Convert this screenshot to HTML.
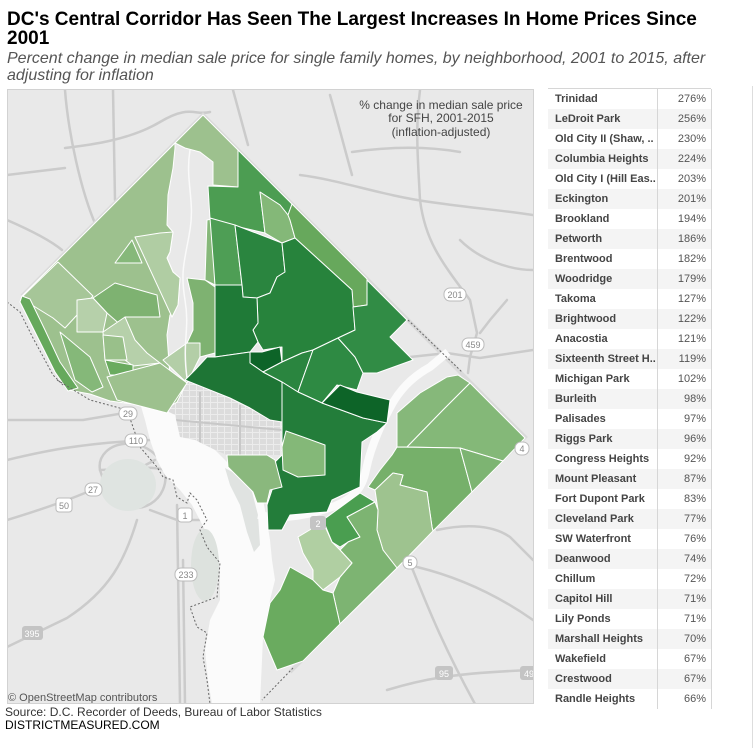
<!DOCTYPE html>
<html><head><meta charset="utf-8">
<style>
*{margin:0;padding:0;box-sizing:border-box}
body{width:753px;height:748px;overflow:hidden;background:#fff;font-family:"Liberation Sans",Arial,sans-serif;position:relative}
.t{position:absolute;left:7px;top:10px;font-size:19px;line-height:19px;font-weight:bold;color:#000;width:742px;white-space:nowrap}
.s{position:absolute;left:7px;top:50px;font-size:16px;line-height:17px;font-style:italic;color:#555;width:746px;white-space:nowrap}
.src{position:absolute;left:5px;top:706px;font-size:12px;line-height:13px;color:#333;white-space:nowrap}
.src2{color:#000}
.tbl{position:absolute;left:548px;top:88px;width:163px;border-top:1px solid #d6d6d6}
.r{height:20px;line-height:20px;font-size:11px;position:relative}
.r:nth-child(even){background:#f4f4f4}
.n{position:absolute;left:7px;top:0;font-weight:bold;color:#444;white-space:nowrap}
.v{position:absolute;right:5px;top:0;color:#555}
.vl{position:absolute;top:89px;width:1px;height:620px;background:#d6d6d6}
</style></head><body>
<div class="t">DC's Central Corridor Has Seen The Largest Increases In Home Prices Since<br>2001</div>
<div class="s">Percent change in median sale price for single family homes, by neighborhood, 2001 to 2015, after<br>adjusting for inflation</div>

<svg width="753" height="748" style="position:absolute;left:0;top:0">
<defs>
<clipPath id="mc"><rect x="7" y="90" width="526" height="614"/></clipPath>
<pattern id="grid" width="7" height="6" patternUnits="userSpaceOnUse"><path d="M0 0.5H7M0.5 0V6" stroke="#ececec" stroke-width="1"/></pattern>
</defs>
<g clip-path="url(#mc)">
<rect x="7" y="90" width="526" height="614" fill="#e9e9e9"/>
<!-- roads -->
<g fill="none" stroke="#cbcbcb" stroke-width="2.5" stroke-linecap="round">
<path d="M65,90 C68,130 80,190 97,228"/>
<path d="M113,90 L115,200"/>
<path d="M7,175 L65,168"/>
<path d="M65,148 C90,145 130,140 160,122 S195,116 210,112"/>
<path d="M7,220 C30,230 50,240 62,250"/>
<path d="M233,90 L248,145"/>
<path d="M330,95 C340,130 345,150 352,175"/>
<path d="M300,175 C340,180 380,195 430,202 S500,210 533,215"/>
<path d="M352,152 C380,148 420,145 460,152"/>
<path d="M420,90 C415,130 418,160 420,200 C425,240 440,260 470,300 L477,333 L470,357 L468,373"/>
<path d="M460,240 C480,260 510,270 533,270"/>
<path d="M507,300 L490,320 L480,333"/>
<path d="M410,357 L447,353 L480,358 L533,350"/>
<path d="M410,563 C425,600 440,640 475,704"/>
<path d="M417,567 C450,575 490,590 533,620"/>
<path d="M437,530 C460,525 490,523 510,537 L533,560"/>
<path d="M387,690 C420,680 450,673 533,670"/>
<path d="M7,460 C40,452 80,443 150,440"/>
<path d="M100,470 C95,440 150,430 165,470 C170,500 140,520 110,500 Z"/>
<path d="M7,520 C50,507 100,490 155,460"/>
<path d="M137,520 C125,560 110,590 67,618 L7,647"/>
<path d="M177,505 L180,704"/>
<path d="M183,560 L185,704"/>
<path d="M7,420 L83,420 L130,412"/>
<path d="M150,510 L177,520 L215,520"/>
<path d="M100,470 C120,470 150,465 165,470"/>
</g>
<ellipse cx="128" cy="485" rx="28" ry="26" fill="#dfe4e1"/>
<path d="M22,296 L203,115 L525,437 L290,672" stroke="#dadada" stroke-width="4" fill="none"/>
<!-- mall -->
<polygon points="185,380 230,398 282,422 282,455 227,455 215,450 195,440 165,437 160,420 165,405 177,402" fill="#dcdcdc"/>
<polygon points="185,380 230,398 282,422 282,455 227,455 215,450 195,440 165,437 160,420 165,405 177,402" fill="url(#grid)"/>
<g stroke="#c8c8c8" stroke-width="2" fill="none">
<path d="M175,420 L282,430"/><path d="M200,392 L200,445"/><path d="M240,405 L240,455"/>
</g>
<!-- Potomac -->
<polygon points="140,403 165,410 175,415 180,437 195,440 215,450 227,462 245,475 262,495 266,515 270,540 272,560 275,580 270,600 263,637 262,660 260,704 212,704 208,680 205,650 210,620 220,600 220,565 205,530 192,505 180,490 165,475 157,460 150,440 145,420" fill="#fbfbfb"/>
<polygon points="225,468 240,476 252,492 258,515 260,545 254,552 247,532 240,505 230,485" fill="#e0e3e1"/>
<ellipse cx="205" cy="565" rx="14" ry="36" fill="#dde2de"/>
<path d="M258,515 C285,520 310,515 335,506 C352,499 362,490 366,470 C370,450 378,430 390,408 C398,392 410,378 430,367 L448,352" stroke="#fbfbfb" stroke-width="8" fill="none"/>
<!-- DC polygons -->
<g stroke="#fff" stroke-width="1" stroke-linejoin="round">
<polygon fill="#9dc18e" points="175,143 22,296 20,302 38,338 55,372 68,390 90,394 110,401 140,405 165,410 177,402 187,382 170,377 167,335 170,315 178,305 180,278 173,272 167,258 170,252 173,232 167,225 168,195 173,168 175,148"/>
<polygon fill="#a6c698" points="22,297 58,262 93,296 77,315 65,328 53,318 32,305"/>
<polygon fill="#66a95c" points="22,296 30,299 45,330 60,362 78,388 68,391 55,372 38,338 20,302"/>
<polygon fill="#85b879" points="60,332 90,357 103,387 92,392 75,380"/>
<polygon fill="#86b87a" points="115,263 132,240 142,263"/>
<polygon fill="#b0cda3" points="135,237 160,233 173,232 170,252 167,258 173,272 180,278 178,305 172,317"/>
<polygon fill="#7eb271" points="93,298 115,283 157,295 160,317 125,317 123,327 107,313"/>
<polygon fill="#b6d0aa" points="77,300 93,298 107,313 103,332 77,332"/>
<polygon fill="#b6d0aa" points="103,332 125,317 135,340 147,353 160,363 133,366 125,360 105,360"/>
<polygon fill="#99c08a" points="103,335 123,337 127,360 105,360"/>
<polygon fill="#6aab5f" points="105,360 133,365 133,375 110,375"/>
<polygon fill="#9dc18e" points="107,377 160,363 187,383 167,413 117,400"/>
<polygon fill="#b3cea7" points="163,360 187,343 200,343 200,357 187,383"/>
<polygon fill="#9dc18e" points="175,143 203,115 238,150 238,187 213,185 213,162 200,152 185,148"/>
<polygon fill="#86b87a" points="207,220 212,219 215,285 205,280"/>
<polygon fill="#7eb271" points="187,278 205,280 215,287 215,353 200,357 200,343 187,343 193,330 193,303"/>
<polygon fill="#4c9d52" points="208,186 238,187 238,150 292,204 288,215 280,205 260,192 265,233 235,226 210,219"/>
<polygon fill="#84b878" points="260,192 280,205 288,215 290,220 295,238 282,243 265,233"/>
<polygon fill="#67a85c" points="292,204 367,279 367,305 353,307 352,290 295,238 290,220 288,215"/>
<polygon fill="#4e9e55" points="210,218 235,225 242,285 215,285"/>
<polygon fill="#2a853f" points="235,225 282,243 285,272 277,277 270,293 257,298 243,297 242,285"/>
<polygon fill="#27833c" points="282,243 295,238 352,290 355,330 338,338 313,350 302,353 282,362 282,347 263,350 258,342 253,330 258,323 257,298 270,293 277,277 285,272"/>
<polygon fill="#1f7a37" points="215,285 242,285 243,297 257,298 258,323 253,330 258,342 250,352 215,357"/>
<polygon fill="#0d6428" points="250,352 262,352 280,347 282,362 263,372 250,363"/>
<polygon fill="#1e7535" points="185,380 195,370 207,357 215,357 250,352 250,363 263,372 282,382 282,422 270,420 250,408 230,398"/>
<polygon fill="#2a853f" points="263,372 282,362 302,353 313,350 298,392 282,382"/>
<polygon fill="#2e8a43" points="313,350 338,338 355,357 363,373 357,390 337,385 322,403 298,392"/>
<polygon fill="#318c45" points="355,330 353,307 367,305 367,280 407,320 390,337 413,360 377,373 363,373 355,357 338,338"/>
<polygon fill="#237d3a" points="282,382 298,392 322,403 363,418 387,423 377,432 362,442 360,487 332,500 327,512 313,513 290,515 282,530 268,530 267,505 272,490 275,462 282,455 282,422"/>
<polygon fill="#0d6428" points="322,403 340,385 357,392 390,400 387,423 363,418"/>
<polygon fill="#84b878" points="286,431 303,437 325,445 325,475 298,477 283,470 282,447"/>
<polygon fill="#8ab87d" points="227,455 267,455 275,460 282,487 270,490 267,503 257,503 253,492 228,467"/>
<polygon fill="#86b87a" points="397,413 420,393 447,377 458,375 470,383 443,410 407,447 397,447"/>
<polygon fill="#84b878" points="470,383 525,438 503,461 460,448 407,447 443,410"/>
<polygon fill="#76b06a" points="397,447 460,448 472,492 433,531 432,527 427,492 400,485 403,475 393,473 375,490 368,487 380,470 392,455"/>
<polygon fill="#7db472" points="460,448 503,461 472,492"/>
<polygon fill="#9ec38f" points="375,490 393,473 403,475 400,485 427,492 432,527 433,531 397,568 383,550 377,530 378,510"/>
<polygon fill="#4a9e50" points="323,520 360,493 375,502 347,517 360,537 348,542 340,547 332,542"/>
<polygon fill="#7db472" points="375,502 378,510 377,530 383,550 397,568 340,624 333,593 340,577 352,563 340,550 348,542 360,537 347,517"/>
<polygon fill="#b0cfa2" points="298,537 323,522 332,542 340,550 352,563 340,577 323,590 313,580 313,570 303,553"/>
<polygon fill="#6aab5f" points="290,567 313,580 323,590 333,593 340,624 303,661 277,670 263,637 270,603 280,590"/>
</g>
<path d="M190,150 C185,180 195,200 190,230 S180,270 185,300 S182,340 187,378" stroke="#fafafa" stroke-width="1.5" fill="none"/>
<!-- dashed boundary -->
<g fill="none" stroke="#666" stroke-width="1" stroke-dasharray="2,2">
<path d="M7,302 L20,312 L33,338 L53,375 L63,385"/>
<path d="M57,380 L90,400 L127,410 L133,427 L140,447 L157,467 L163,477 L173,480 L177,497 L187,503 L190,493 L197,500 L207,520 L200,530 L207,547 L220,563 L217,597 L190,607 L197,627 L207,633 L203,657 L207,680 L210,704"/>
<path d="M408,320 L462,372"/>
<path d="M293,668 L262,700"/>
</g>
<!-- shields -->
<g font-family="Liberation Sans, Arial, sans-serif" font-size="9" text-anchor="middle">
<rect x="444" y="288" width="22" height="13" rx="6" fill="#fff" stroke="#bbb"/><text x="455" y="298" fill="#888">201</text>
<rect x="462" y="338" width="22" height="13" rx="6" fill="#fff" stroke="#bbb"/><text x="473" y="348" fill="#888">459</text>
<rect x="403" y="556" width="14" height="13" rx="6" fill="#fff" stroke="#bbb"/><text x="410" y="566" fill="#888">5</text>
<rect x="435" y="666" width="18" height="14" rx="3" fill="#c4c4c4"/><text x="444" y="677" fill="#fff">95</text>
<rect x="520" y="666" width="18" height="14" rx="3" fill="#c4c4c4"/><text x="529" y="677" fill="#fff">49</text>
<rect x="310" y="516" width="16" height="14" rx="3" fill="#c4c4c4"/><text x="318" y="527" fill="#fff">2</text>
<rect x="119" y="407" width="18" height="13" rx="6" fill="#fff" stroke="#bbb"/><text x="128" y="417" fill="#888">29</text>
<rect x="125" y="434" width="22" height="13" rx="6" fill="#fff" stroke="#bbb"/><text x="136" y="444" fill="#888">110</text>
<rect x="85" y="483" width="17" height="13" rx="6" fill="#fff" stroke="#bbb"/><text x="93" y="493" fill="#888">27</text>
<rect x="56" y="498" width="16" height="14" rx="3" fill="#fff" stroke="#bbb"/><text x="64" y="509" fill="#888">50</text>
<rect x="178" y="508" width="14" height="14" rx="3" fill="#fff" stroke="#bbb"/><text x="185" y="519" fill="#888">1</text>
<rect x="175" y="568" width="22" height="13" rx="6" fill="#fff" stroke="#bbb"/><text x="186" y="578" fill="#888">233</text>
<rect x="22" y="626" width="21" height="14" rx="3" fill="#c4c4c4"/><text x="32" y="637" fill="#fff">395</text>
<rect x="515" y="442" width="14" height="13" rx="6" fill="#fff" stroke="#bbb"/><text x="522" y="452" fill="#888">4</text>
</g>
<!-- legend -->
<g font-family="Liberation Sans, Arial, sans-serif" font-size="12" fill="#444" text-anchor="middle">
<text x="441" y="109">% change in median sale price</text>
<text x="441" y="122">for SFH, 2001-2015</text>
<text x="441" y="136">(inflation-adjusted)</text>
</g>
<text x="8" y="701" font-family="Liberation Sans, Arial, sans-serif" font-size="11" fill="#555">© OpenStreetMap contributors</text>
</g>
<rect x="7.5" y="89.5" width="526" height="614" fill="none" stroke="#d2d2d2"/>
<line x1="752.5" y1="86" x2="752.5" y2="748" stroke="#dddddd"/>
</svg>

<div class="tbl">
<div class="r"><span class="n">Trinidad</span><span class="v">276%</span></div>
<div class="r"><span class="n">LeDroit Park</span><span class="v">256%</span></div>
<div class="r"><span class="n">Old City II (Shaw, ..</span><span class="v">230%</span></div>
<div class="r"><span class="n">Columbia Heights</span><span class="v">224%</span></div>
<div class="r"><span class="n">Old City I (Hill Eas..</span><span class="v">203%</span></div>
<div class="r"><span class="n">Eckington</span><span class="v">201%</span></div>
<div class="r"><span class="n">Brookland</span><span class="v">194%</span></div>
<div class="r"><span class="n">Petworth</span><span class="v">186%</span></div>
<div class="r"><span class="n">Brentwood</span><span class="v">182%</span></div>
<div class="r"><span class="n">Woodridge</span><span class="v">179%</span></div>
<div class="r"><span class="n">Takoma</span><span class="v">127%</span></div>
<div class="r"><span class="n">Brightwood</span><span class="v">122%</span></div>
<div class="r"><span class="n">Anacostia</span><span class="v">121%</span></div>
<div class="r"><span class="n">Sixteenth Street H..</span><span class="v">119%</span></div>
<div class="r"><span class="n">Michigan Park</span><span class="v">102%</span></div>
<div class="r"><span class="n">Burleith</span><span class="v">98%</span></div>
<div class="r"><span class="n">Palisades</span><span class="v">97%</span></div>
<div class="r"><span class="n">Riggs Park</span><span class="v">96%</span></div>
<div class="r"><span class="n">Congress Heights</span><span class="v">92%</span></div>
<div class="r"><span class="n">Mount Pleasant</span><span class="v">87%</span></div>
<div class="r"><span class="n">Fort Dupont Park</span><span class="v">83%</span></div>
<div class="r"><span class="n">Cleveland Park</span><span class="v">77%</span></div>
<div class="r"><span class="n">SW Waterfront</span><span class="v">76%</span></div>
<div class="r"><span class="n">Deanwood</span><span class="v">74%</span></div>
<div class="r"><span class="n">Chillum</span><span class="v">72%</span></div>
<div class="r"><span class="n">Capitol Hill</span><span class="v">71%</span></div>
<div class="r"><span class="n">Lily Ponds</span><span class="v">71%</span></div>
<div class="r"><span class="n">Marshall Heights</span><span class="v">70%</span></div>
<div class="r"><span class="n">Wakefield</span><span class="v">67%</span></div>
<div class="r"><span class="n">Crestwood</span><span class="v">67%</span></div>
<div class="r"><span class="n">Randle Heights</span><span class="v">66%</span></div>
</div>
<div class="vl" style="left:657px"></div>
<div class="vl" style="left:711px"></div>

<div class="src">Source: D.C. Recorder of Deeds, Bureau of Labor Statistics<br><span class="src2">DISTRICTMEASURED.COM</span></div>
</body></html>
